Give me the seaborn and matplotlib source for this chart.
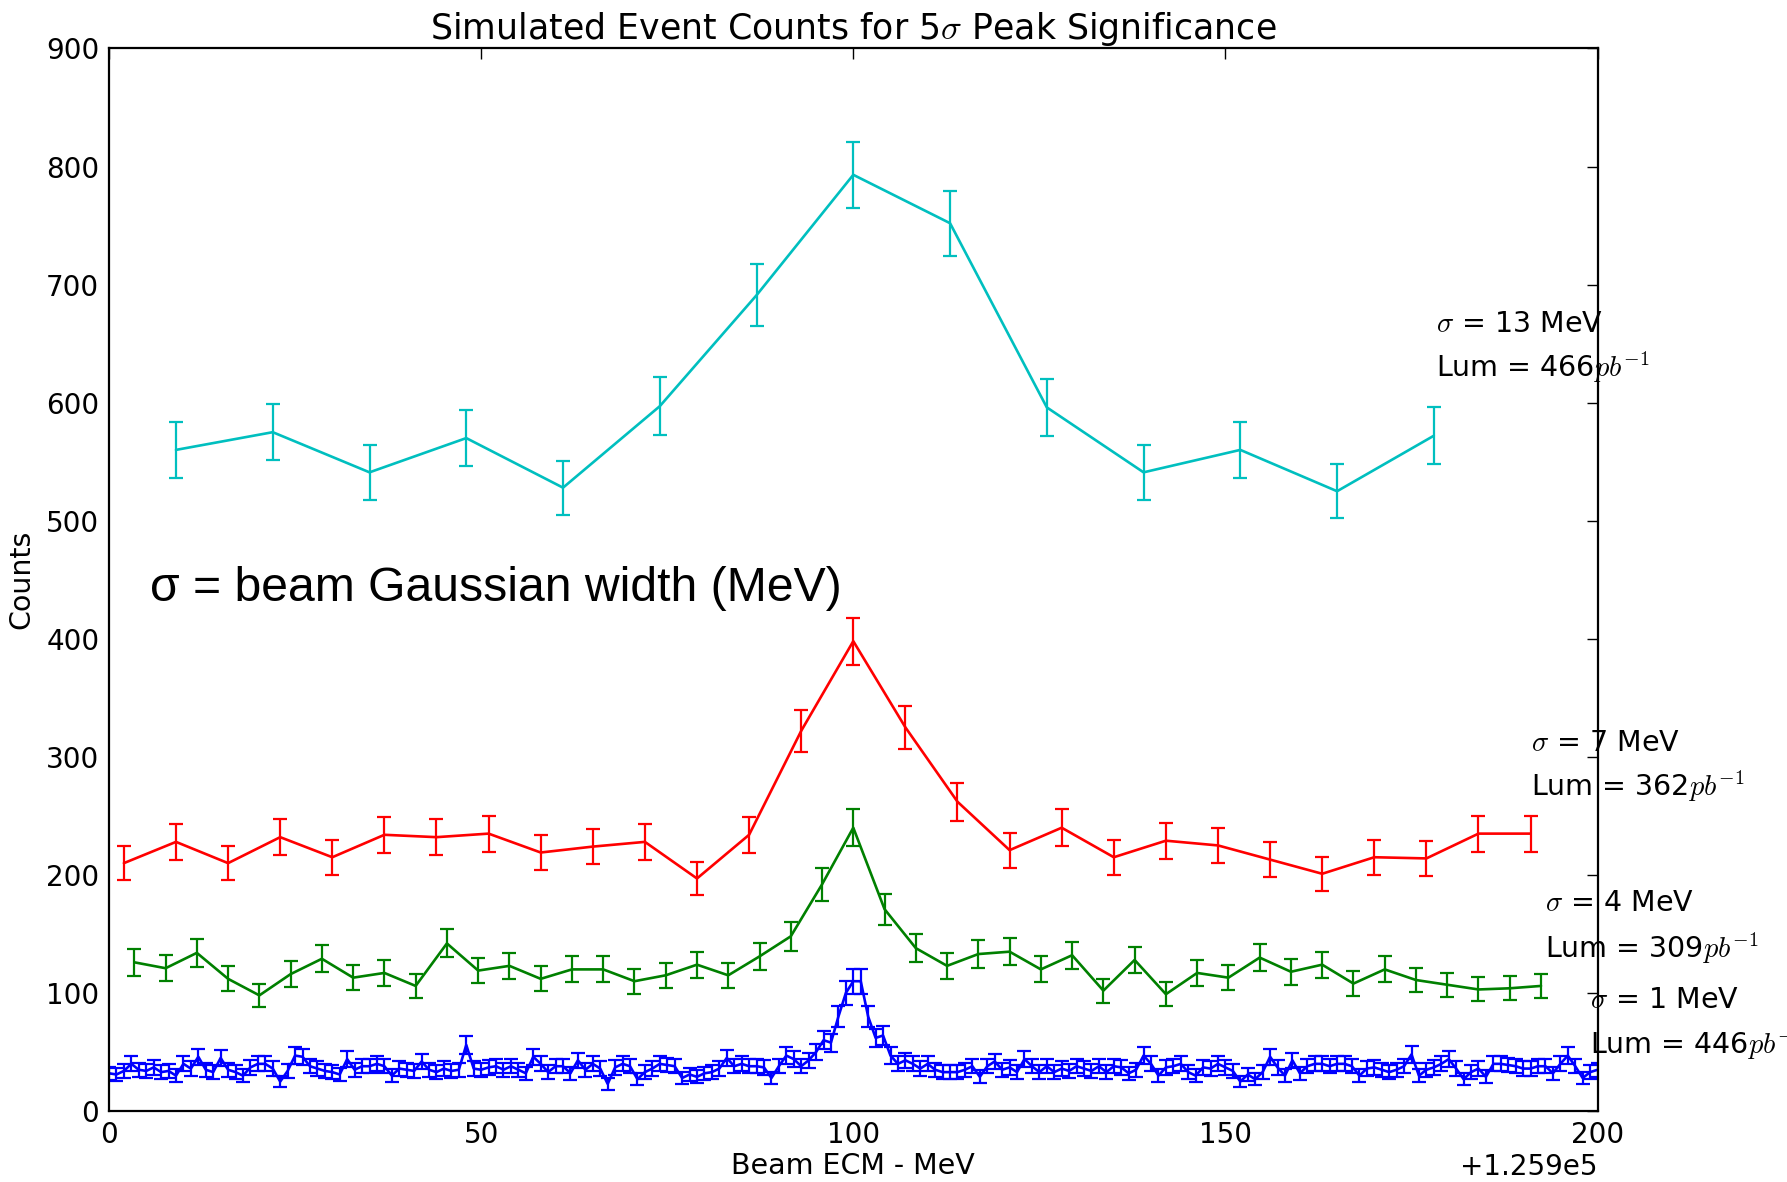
import numpy as np
import pandas as pd
import matplotlib
matplotlib.use("Agg")
import matplotlib.pyplot as plt
import seaborn as sns
from matplotlib.ticker import ScalarFormatter, MultipleLocator

# Reference beam energy; scan points are given as offsets from it (MeV)
ECM0 = 125900

# sigma = 13 MeV scan
x_13 = [9, 22, 35, 48, 61, 74, 87, 100, 113, 126, 139, 152, 165, 178]
n_13 = [560, 575, 541, 570, 528, 597, 691, 793, 752, 596, 541, 560, 525, 572]

# sigma = 7 MeV scan
x_7 = [2, 9, 16, 23, 30, 37, 44, 51, 58, 65, 72, 79, 86, 93, 100,
       107, 114, 121, 128, 135, 142, 149, 156, 163, 170, 177, 184, 191]
n_7 = [210, 228, 210, 232, 215, 234, 232, 235, 219, 224, 228, 197, 234, 322, 398,
       325, 262, 221, 240, 215, 229, 225, 213, 201, 215, 214, 235, 235]

# sigma = 4 MeV scan
x_4 = [3.4, 7.6, 11.8, 16.0, 20.2, 24.4, 28.6, 32.8, 37.0, 41.2, 45.4, 49.6,
       53.8, 58.0, 62.2, 66.4, 70.6, 74.8, 79.0, 83.2, 87.4, 91.6, 95.8, 100.0,
       104.2, 108.4, 112.6, 116.8, 121.0, 125.2, 129.4, 133.6, 137.8, 142.0,
       146.2, 150.4, 154.6, 158.8, 163.0, 167.2, 171.4, 175.6, 179.8, 184.0,
       188.2, 192.4]
n_4 = [126, 121, 134, 112, 98, 116, 129, 113, 117, 106, 142, 119,
       123, 112, 120, 120, 110, 115, 124, 115, 131, 148, 192, 240,
       171, 138, 123, 133, 135, 120, 132, 102, 128, 99,
       117, 113, 130, 118, 124, 108, 120, 111, 107, 103,
       104, 106]

# sigma = 1 MeV scan, one point per MeV from 0 to 200
x_1 = np.arange(0, 201)
n_1 = [32, 31, 34, 40, 35, 34, 37, 33, 34, 30, 40, 36, 46, 35, 33, 45, 35, 33, 30, 37,
       40, 40, 36, 25, 34, 47, 46, 38, 36, 34, 33, 31, 44, 35, 38, 38, 40, 38, 30, 36,
       35, 34, 42, 35, 33, 36, 34, 35, 56, 36, 35, 37, 38, 35, 38, 35, 32, 46, 40, 33,
       38, 38, 32, 43, 35, 40, 36, 23, 37, 40, 38, 27, 33, 36, 40, 39, 38, 28, 31, 29,
       32, 33, 36, 45, 38, 40, 38, 38, 37, 28, 38, 47, 44, 38, 43, 50, 60, 58, 80, 100,
       110, 110, 80, 62, 64, 47, 40, 43, 40, 36, 40, 35, 33, 33, 33, 35, 38, 29, 38, 42,
       35, 37, 33, 44, 38, 33, 38, 33, 36, 34, 38, 36, 34, 38, 33, 38, 37, 32, 35, 47,
       40, 30, 37, 38, 40, 33, 30, 37, 36, 40, 37, 34, 25, 31, 27, 33, 46, 37, 30, 43,
       32, 38, 40, 40, 38, 40, 40, 38, 30, 36, 37, 35, 33, 35, 38, 48, 30, 35, 37, 40,
       44, 36, 27, 33, 36, 29, 40, 40, 39, 38, 36, 36, 38, 38, 32, 40, 47, 38, 28, 33,
       35]

widths = ["13", "7", "4", "1"]
lumis = ["466", "362", "309", "446"]
colors = [(0.0, 0.75, 0.75), (1.0, 0.0, 0.0), (0.0, 0.5, 0.0), (0.0, 0.0, 1.0)]

frames = []
for w, xs, ns in zip(widths, [x_13, x_7, x_4, x_1], [n_13, n_7, n_4, n_1]):
    frames.append(pd.DataFrame({"ecm": ECM0 + np.asarray(xs, dtype=float),
                                "counts": np.asarray(ns, dtype=float),
                                "width": w}))
df = pd.concat(frames, ignore_index=True)
df["err"] = np.sqrt(df["counts"])  # Poisson uncertainty

sns.set_style("white")
plt.rcParams.update({
    "font.family": ["DejaVu Sans"],
    "mathtext.fontset": "cm",
    "text.color": "black",
    "axes.labelcolor": "black",
    "xtick.color": "black",
    "ytick.color": "black",
    "xtick.direction": "in",
    "ytick.direction": "in",
    "xtick.top": True,
    "ytick.right": True,
    "xtick.major.size": 8,
    "ytick.major.size": 8,
    "xtick.major.width": 1.0,
    "ytick.major.width": 1.0,
    "axes.edgecolor": "black",
    "axes.linewidth": 1.6,
})

fig = plt.figure(figsize=(17.87, 11.82), dpi=100)
ax = fig.add_axes([0.061, 0.060, 0.833, 0.899])

palette = dict(zip(widths, colors))
sns.lineplot(data=df, x="ecm", y="counts", hue="width", palette=palette,
             hue_order=widths, linewidth=1.9, legend=False, ax=ax,
             estimator=None, sort=True)
for w in widths:
    sub = df[df["width"] == w]
    ax.errorbar(sub["ecm"], sub["counts"], yerr=sub["err"], fmt="none",
                ecolor=palette[w], elinewidth=1.6, capsize=5, capthick=1.6)

ax.set_xlim(ECM0, ECM0 + 200)
ax.set_ylim(0, 900)
ax.xaxis.set_major_locator(MultipleLocator(50))
ax.yaxis.set_major_locator(MultipleLocator(100))
fmt = ScalarFormatter(useOffset=ECM0)
ax.xaxis.set_major_formatter(fmt)
ax.tick_params(labelsize=20, pad=7)
ax.xaxis.get_offset_text().set_fontsize(20)

ax.set_title(r"Simulated Event Counts for 5$\sigma$ Peak Significance",
             fontsize=25, pad=7)
ax.set_xlabel("Beam ECM - MeV", fontsize=20.5, labelpad=2)
ax.set_ylabel("Counts", fontsize=20.5, labelpad=8)

# Width / luminosity labels next to each scan
label_pos = [(178.3, 667, 630), (191.1, 312, 275), (193.0, 176, 138), (199.0, 94, 56)]
for (lx, ys, yl), w, lum in zip(label_pos, widths, lumis):
    ax.text(ECM0 + lx, ys, r"$\sigma$ = " + w + " MeV", fontsize=20.5,
            va="center", ha="left", clip_on=False)
    ax.text(ECM0 + lx, yl, "Lum = " + lum + r"$pb^{-1}$", fontsize=20.5,
            va="center", ha="left", clip_on=False)

ax.text(ECM0 + 5.5, 443, "σ = beam Gaussian width (MeV)", fontsize=34.7,
        family=["Liberation Sans", "DejaVu Sans"], va="center", ha="left")

fig.savefig("out.png", dpi=100, facecolor="white")
